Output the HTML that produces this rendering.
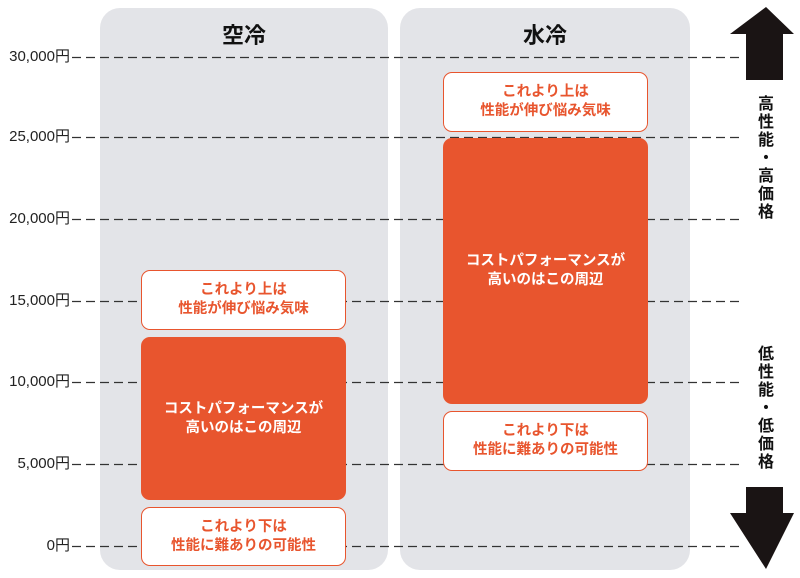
<!DOCTYPE html>
<html><head><meta charset="utf-8"><style>
body{margin:0;width:800px;height:578px;background:#fff;position:relative;overflow:hidden;font-family:"Liberation Sans","Noto Sans CJK JP",sans-serif}
.p{position:absolute;background:#e3e4e8;border-radius:20px;top:8px;height:562px}
.t{position:absolute;top:18px;font-weight:bold;font-size:22px;color:#111;text-align:center}
.y{position:absolute;right:730px;font-size:15px;color:#222;text-align:right;line-height:16px}
.w{position:absolute;background:#fff;border:1.3px solid #e8552e;border-radius:9px;color:#e8552e;font-weight:bold;font-size:14.5px;line-height:19px;display:flex;align-items:center;justify-content:center;text-align:center;box-sizing:border-box}
.o{position:absolute;background:#e8552e;border-radius:9px;color:#fff;font-weight:bold;font-size:14.5px;line-height:19px;display:flex;align-items:center;justify-content:center;text-align:center}
.v{position:absolute;left:756px;width:20px;font-weight:bold;font-size:16px;line-height:18px;text-align:center;color:#111}
</style></head><body>
<div class="p" style="left:100px;width:288px"></div>
<div class="p" style="left:400px;width:290px"></div>
<div class="t" style="left:100px;width:288px">空冷</div>
<div class="t" style="left:400px;width:290px">水冷</div>
<svg style="position:absolute;left:0;top:0" width="800" height="578">
<g stroke="#333" stroke-width="1.2" stroke-dasharray="9,5">
<line x1="72" y1="57.5" x2="742" y2="57.5"/><line x1="72" y1="137.5" x2="742" y2="137.5"/><line x1="72" y1="219.5" x2="742" y2="219.5"/><line x1="72" y1="301.5" x2="742" y2="301.5"/><line x1="72" y1="382.5" x2="742" y2="382.5"/><line x1="72" y1="464.5" x2="742" y2="464.5"/><line x1="72" y1="546.5" x2="742" y2="546.5"/>
</g>
<polygon points="766,7 794,34 783,34 783,80 746,80 746,34 730,34" fill="#1a1414"/><polygon points="766,569 794,513 783,513 783,487 746,487 746,513 730,513" fill="#1a1414"/></svg>
<div class="y" style="top:49px">30,000円</div><div class="y" style="top:129px">25,000円</div><div class="y" style="top:211px">20,000円</div><div class="y" style="top:293px">15,000円</div><div class="y" style="top:374px">10,000円</div><div class="y" style="top:456px">5,000円</div><div class="y" style="top:538px">0円</div>
<div class="w" style="left:141px;top:270px;width:205px;height:60px">これより上は<br>性能が伸び悩み気味</div>
<div class="o" style="left:141px;top:337px;width:205px;height:163px">コストパフォーマンスが<br>高いのはこの周辺</div>
<div class="w" style="left:141px;top:507px;width:205px;height:59px">これより下は<br>性能に難ありの可能性</div>
<div class="w" style="left:443px;top:72px;width:205px;height:60px">これより上は<br>性能が伸び悩み気味</div>
<div class="o" style="left:443px;top:138px;width:205px;height:266px">コストパフォーマンスが<br>高いのはこの周辺</div>
<div class="w" style="left:443px;top:411px;width:205px;height:60px">これより下は<br>性能に難ありの可能性</div>
<div class="v" style="top:96px">高<br>性<br>能<br>・<br>高<br>価<br>格</div>
<div class="v" style="top:346px">低<br>性<br>能<br>・<br>低<br>価<br>格</div>
</body></html>
